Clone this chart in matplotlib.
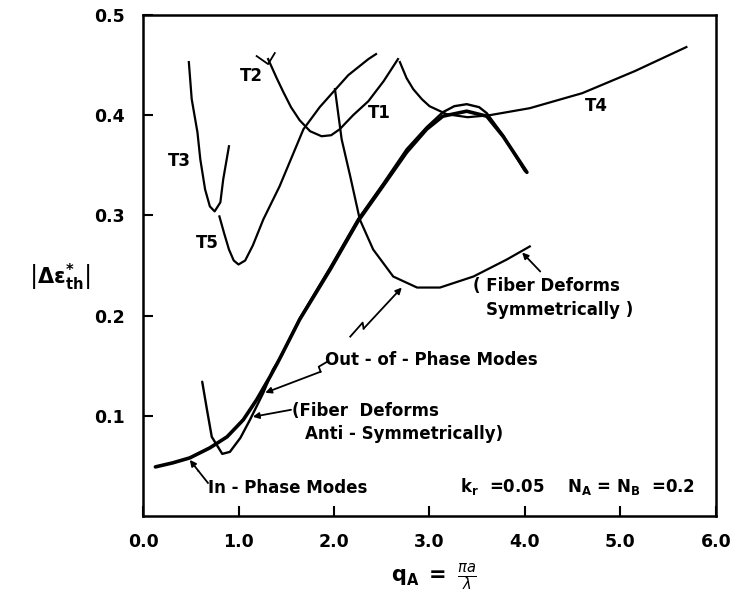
import matplotlib
matplotlib.use("Agg")
import matplotlib.pyplot as plt

plt.rcParams['font.family'] = ['DejaVu Sans']
plt.rcParams['mathtext.fontset'] = 'dejavusans'

# ---- data ----
in_phase_x = [0.13, 0.31, 0.49, 0.70, 0.88, 1.05, 1.19, 1.33, 1.41, 1.64, 1.96, 2.25, 2.51, 2.76, 2.97, 3.14, 3.39, 3.60, 3.77, 4.02]
in_phase_y = [0.049, 0.053, 0.058, 0.068, 0.079, 0.096, 0.116, 0.139, 0.153, 0.196, 0.246, 0.294, 0.329, 0.363, 0.386, 0.399, 0.404, 0.399, 0.379, 0.343]

anti_x = [0.62, 0.67, 0.72, 0.83, 0.91, 1.02, 1.12, 1.26, 1.36, 1.45, 1.64, 1.96, 2.25, 2.51, 2.76, 2.97, 3.14, 3.26, 3.39, 3.52, 3.60, 3.77, 4.00]
anti_y = [0.134, 0.106, 0.079, 0.062, 0.064, 0.078, 0.096, 0.123, 0.146, 0.160, 0.197, 0.248, 0.296, 0.331, 0.366, 0.388, 0.403, 0.409, 0.411, 0.408, 0.402, 0.380, 0.344]

sym_x = [2.01, 2.08, 2.17, 2.27, 2.41, 2.62, 2.87, 3.11, 3.46, 3.81, 4.05]
sym_y = [0.426, 0.376, 0.339, 0.296, 0.266, 0.239, 0.228, 0.228, 0.239, 0.256, 0.269]

t3_x = [0.48, 0.51, 0.57, 0.60, 0.65, 0.70, 0.75, 0.81, 0.84, 0.90]
t3_y = [0.453, 0.416, 0.383, 0.356, 0.326, 0.309, 0.304, 0.313, 0.336, 0.369]

t5_x = [0.80, 0.85, 0.90, 0.95, 1.00, 1.07, 1.15, 1.26, 1.43, 1.68, 1.85, 1.99, 2.15, 2.36, 2.44]
t5_y = [0.299, 0.282, 0.266, 0.255, 0.251, 0.255, 0.270, 0.296, 0.329, 0.386, 0.408, 0.423, 0.440, 0.456, 0.461]

t2_x = [1.31, 1.40, 1.47, 1.55, 1.64, 1.75, 1.87, 1.97, 2.06, 2.20, 2.36, 2.52, 2.67]
t2_y = [0.456, 0.437, 0.423, 0.408, 0.395, 0.384, 0.379, 0.380, 0.386, 0.400, 0.414, 0.434, 0.456]

t4_x = [2.69, 2.76, 2.83, 2.92, 3.00, 3.18, 3.40, 3.63, 4.05, 4.60, 5.15, 5.69]
t4_y = [0.453, 0.437, 0.426, 0.416, 0.409, 0.401, 0.398, 0.400, 0.407, 0.422, 0.444, 0.468]

x_ticks = [0.0, 1.0, 2.0, 3.0, 4.0, 5.0, 6.0]
x_tick_labels = ['0.0', '1.0', '2.0', '3.0', '4.0', '5.0', '6.0']
y_ticks = [0.1, 0.2, 0.3, 0.4, 0.5]
y_tick_labels = ['0.1', '0.2', '0.3', '0.4', '0.5']

# ---- figure ----
fig = plt.figure(figsize=(7.36, 6.0), dpi=100)
ax = fig.add_axes([0.1943, 0.14, 0.7785, 0.835])
ax.set_xlim(0, 6)
ax.set_ylim(0, 0.5)

lw = 1.6
ax.plot(in_phase_x, in_phase_y, color='black', lw=2.6, solid_capstyle='round', solid_joinstyle='round')
ax.plot(anti_x, anti_y, color='black', lw=1.7, solid_capstyle='round', solid_joinstyle='round')
ax.plot(sym_x, sym_y, color='black', lw=lw, solid_joinstyle='round')
ax.plot(t3_x, t3_y, color='black', lw=lw, solid_joinstyle='round')
ax.plot(t5_x, t5_y, color='black', lw=lw, solid_joinstyle='round')
ax.plot(t2_x, t2_y, color='black', lw=lw, solid_joinstyle='round')
ax.plot(t4_x, t4_y, color='black', lw=lw, solid_joinstyle='round')
# small tick mark at start of T2
ax.plot([1.19, 1.31, 1.38], [0.459, 0.451, 0.462], color='black', lw=1.3)

for s in ax.spines.values():
    s.set_linewidth(1.8)

ax.set_xticks(x_ticks)
ax.set_xticklabels(x_tick_labels)
ax.set_yticks(y_ticks)
ax.set_yticklabels(y_tick_labels)
ax.tick_params(axis='both', direction='in', length=7, width=1.5, labelsize=12.5)
ax.tick_params(axis='x', pad=12)
ax.tick_params(axis='y', pad=13)
for lab in ax.get_xticklabels() + ax.get_yticklabels():
    lab.set_fontweight('bold')

tkw = dict(fontsize=12, fontweight='bold', color='black')
ax.text(0.38, 0.354, 'T3', ha='center', va='center', **tkw)
ax.text(0.67, 0.272, 'T5', ha='center', va='center', **tkw)
ax.text(1.14, 0.439, 'T2', ha='center', va='center', **tkw)
ax.text(2.47, 0.402, 'T1', ha='center', va='center', **tkw)
ax.text(4.75, 0.409, 'T4', ha='center', va='center', **tkw)

ax.text(3.46, 0.230, '( Fiber Deforms', ha='left', va='center', **tkw)
ax.text(3.59, 0.206, 'Symmetrically )', ha='left', va='center', **tkw)
ax.text(1.91, 0.156, 'Out - of - Phase Modes', ha='left', va='center', **tkw)
ax.text(1.56, 0.105, '(Fiber  Deforms', ha='left', va='center', **tkw)
ax.text(1.70, 0.082, 'Anti - Symmetrically)', ha='left', va='center', **tkw)
ax.text(0.68, 0.028, 'In - Phase Modes', ha='left', va='center', **tkw)
ax.text(3.32, 0.029, r'k$_{\mathbf{r}}$  =0.05    N$_{\mathbf{A}}$ = N$_{\mathbf{B}}$  =0.2',
        ha='left', va='center', **tkw)

akw = dict(arrowstyle='-|>', color='black', lw=1.3, mutation_scale=9, shrinkA=0, shrinkB=0)
# In-phase arrow
ax.plot([0.68, 0.58], [0.033, 0.045], color='black', lw=1.3)
ax.annotate('', xy=(0.49, 0.056), xytext=(0.58, 0.045), arrowprops=akw)
# Anti-symmetric arrow
ax.annotate('', xy=(1.15, 0.099), xytext=(1.55, 0.106), arrowprops=akw)
# Out-of-phase zigzag arrow
ax.plot([1.93, 1.84, 1.86], [0.154, 0.149, 0.144], color='black', lw=1.3)
ax.annotate('', xy=(1.28, 0.123), xytext=(1.86, 0.144), arrowprops=akw)
# Zigzag to symmetric minimum
ax.plot([2.17, 2.30, 2.31], [0.179, 0.193, 0.187], color='black', lw=1.3)
ax.annotate('', xy=(2.71, 0.228), xytext=(2.31, 0.187), arrowprops=akw)
# Symmetric arrow
ax.annotate('', xy=(3.97, 0.263), xytext=(4.16, 0.244), arrowprops=akw)

fig.text(0.0815, 0.538, r'$\left|\mathbf{\Delta\varepsilon^{*}_{th}}\right|$', ha='center', va='center', fontsize=15)
fig.text(0.59, 0.038, r'$\mathbf{q_A}\ \mathbf{=}\ \frac{\pi a}{\lambda}$', ha='center', va='center', fontsize=15)

fig.savefig('out.png', dpi=100)
